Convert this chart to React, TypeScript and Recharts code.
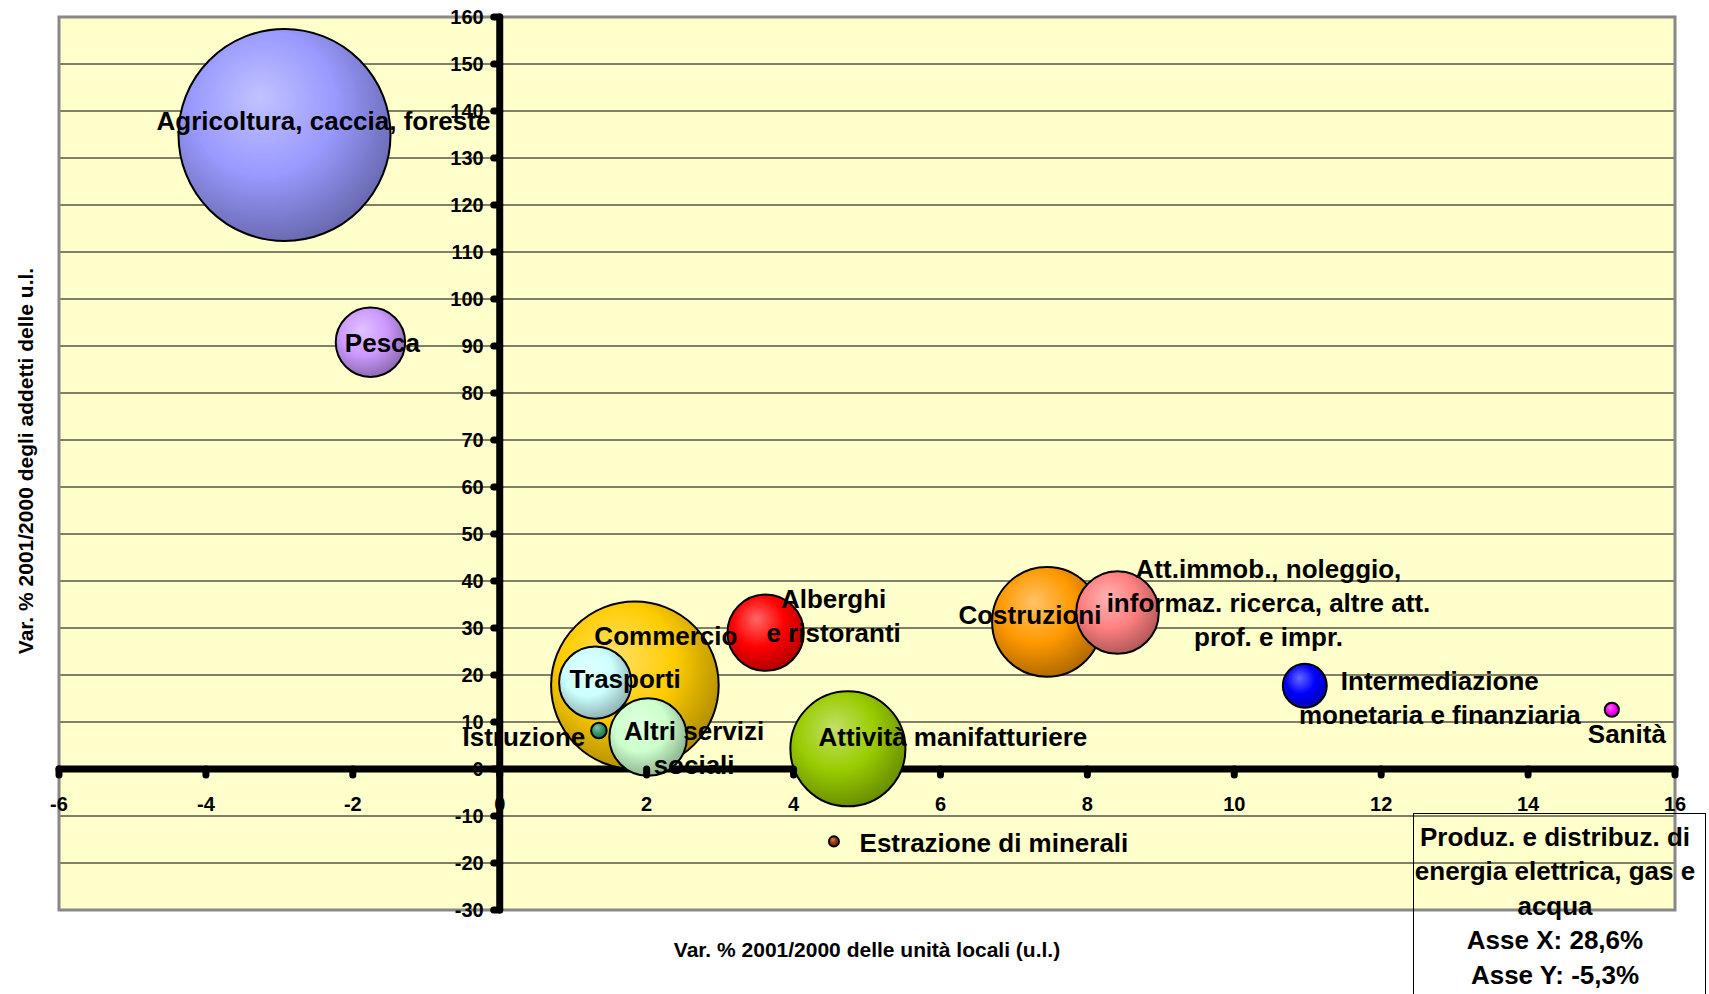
import React from "react";
import {
  ScatterChart,
  Scatter,
  XAxis,
  YAxis,
  ZAxis,
  CartesianGrid,
  ReferenceLine,
  ReferenceArea,
} from "recharts";

// settori di attività economica
const categories = [
  "Agricoltura, caccia, foreste",
  "Pesca",
  "Commercio",
  "Trasporti",
  "Istruzione",
  "Altri servizi sociali",
  "Alberghi e ristoranti",
  "Attività manifatturiere",
  "Estrazione di minerali",
  "Costruzioni",
  "Att.immob., noleggio, informaz. ricerca, altre att. prof. e impr.",
  "Intermediazione monetaria e finanziaria",
  "Sanità",
];
// Var. % 2001/2000 delle unità locali
const varUnitaLocali = [-2.93, -1.76, 1.84, 1.3, 1.35, 2.02, 3.62, 4.74, 4.55, 7.45, 8.41, 10.96, 15.14];
// Var. % 2001/2000 degli addetti delle u.l.
const varAddetti = [134.9, 90.8, 17.8, 18.4, 8.2, 6.8, 29.0, 4.3, -15.4, 31.3, 33.3, 17.7, 12.6];
// dimensione delle bolle
const bubbleSize = [112, 12, 70, 13, 0.6, 15, 14.5, 33, 0.25, 30, 17, 4.8, 0.5];

// settore fuori scala (riquadro in basso a destra)
const outsideLines = ["Produz. e distribuz. di", "energia elettrica, gas e", "acqua"];
const outsideX = 28.6;
const outsideY = -5.3;

const xTicks = [-6, -4, -2, 0, 2, 4, 6, 8, 10, 12, 14, 16];
const yTicks = [-30, -20, -10, 0, 10, 20, 30, 40, 50, 60, 70, 80, 90, 100, 110, 120, 130, 140, 150, 160];

const colors = [
  "#9999FF", "#CC99FF", "#FFCC00", "#CCFFFF", "#339966", "#CCFFCC", "#FF0000",
  "#99CC00", "#993300", "#FF9900", "#FF8080", "#0000FF", "#FF00FF",
];

const labelLines = [
  ["Agricoltura, caccia, foreste"],
  ["Pesca"],
  ["Commercio"],
  ["Trasporti"],
  ["Istruzione"],
  ["Altri servizi", "sociali"],
  ["Alberghi", "e ristoranti"],
  ["Attività manifatturiere"],
  ["Estrazione di minerali"],
  ["Costruzioni"],
  ["Att.immob., noleggio,", "informaz. ricerca, altre att.", "prof. e impr."],
  ["Intermediazione", "monetaria e finanziaria"],
  ["Sanità"],
];
// offset of label (first line centre) from bubble centre, px
const labelOffset = [
  [39, -14], [12, 0], [31, -50], [30, -4], [-75, 6], [46, -6], [68, -34],
  [105, -12], [160, 1], [-17, -7], [151, -44], [135, -5], [15, 24],
];

const data = categories.map((name, i) => ({
  name,
  x: varUnitaLocali[i],
  y: varAddetti[i],
  z: bubbleSize[i],
  idx: i,
}));

const W = 1709;
const H = 994;
// axes take 1px (YAxis width / XAxis height), plot box = 59..1675 x 17..910
const M = { top: 17, right: 34, bottom: 83, left: 58 };
const PL = 59;
const PW = 1675 - PL;
const PH = 910 - 17;
const X0 = PL + (6 / 22) * PW;
const Y0 = 17 + (160 / 190) * PH;
const FONT = '"Liberation Sans", Arial, sans-serif';

const mix = (hex: string, to: string, t: number) => {
  const a = parseInt(hex.slice(1), 16);
  const b = parseInt(to.slice(1), 16);
  const ch = (v: number, s: number) => (v >> s) & 255;
  const m = (s: number) => Math.round(ch(a, s) + (ch(b, s) - ch(a, s)) * t);
  return `rgb(${m(16)},${m(8)},${m(0)})`;
};

const Bubble = (props: any) => {
  const { cx, cy, size, width, payload } = props;
  const r = size != null ? Math.sqrt(Math.max(size, 0) / Math.PI) : (width || 0) / 2;
  const c = colors[payload.idx];
  const id = `bub-${payload.idx}`;
  return (
    <g>
      <defs>
        <radialGradient id={id} cx="42%" cy="38%" r="68%" fx="38%" fy="32%">
          <stop offset="0%" stopColor={mix(c, "#ffffff", 0.4)} />
          <stop offset="50%" stopColor={c} />
          <stop offset="100%" stopColor={mix(c, "#000000", 0.35)} />
        </radialGradient>
      </defs>
      <circle cx={cx} cy={cy} r={r} fill={`url(#${id})`} stroke="#000" strokeWidth={2} />
    </g>
  );
};

const BubbleLabel = (props: any) => {
  const { cx, cy, payload } = props;
  const [dx, dy] = labelOffset[payload.idx];
  return (
    <g>
      {labelLines[payload.idx].map((t, k) => (
        <text
          key={k}
          x={cx + dx}
          y={cy + dy + k * 34 + 9.3}
          textAnchor="middle"
          fontSize={26}
          fontWeight="bold"
          fontFamily={FONT}
          fill="#000"
        >
          {t}
        </text>
      ))}
    </g>
  );
};

const XTick = (props: any) => {
  const { x, payload } = props;
  return (
    <g>
      <line x1={x} x2={x} y1={Y0} y2={Y0 + 6} stroke="#000" strokeWidth={7} strokeLinecap="round" />
      <text x={x} y={810.5} textAnchor="middle" fontSize={20} fontWeight="bold" fontFamily={FONT} fill="#000">
        {payload.value}
      </text>
    </g>
  );
};

const YTick = (props: any) => {
  const { y, payload } = props;
  return (
    <g>
      <text x={X0 - 16} y={y + 7.2} textAnchor="end" fontSize={20} fontWeight="bold" fontFamily={FONT} fill="#000">
        {payload.value}
      </text>
      <line x1={X0 - 6} x2={X0} y1={y} y2={y} stroke="#000" strokeWidth={7} strokeLinecap="round" />
    </g>
  );
};

const XTitle = () => (
  <text x={PL + PW / 2} y={957} textAnchor="middle" fontSize={21} fontWeight="bold" fontFamily={FONT} fill="#000">
    Var. % 2001/2000 delle unità locali (u.l.)
  </text>
);

const YTitle = () => (
  <text
    x={33}
    y={461}
    transform="rotate(-90, 33, 461)"
    textAnchor="middle"
    fontSize={21}
    fontWeight="bold"
    fontFamily={FONT}
    fill="#000"
  >
    Var. % 2001/2000 degli addetti delle u.l.
  </text>
);

const pct = (v: number) => v.toFixed(1).replace(".", ",") + "%";

export default function App() {
  return (
    <div style={{ position: "absolute", left: 0, top: 0, width: W, height: H, fontFamily: FONT }}>
      <ScatterChart width={W} height={H} margin={M}>
        <CartesianGrid horizontal vertical={false} stroke="#000" strokeWidth={1} fill="#FFFFCC" fillOpacity={1} />
        <ReferenceArea x1={-6} x2={16} y1={-30} y2={160} fill="none" stroke="#888" strokeWidth={3} zIndex={-50} />
        <XAxis
          type="number"
          dataKey="x"
          domain={[-6, 16]}
          ticks={xTicks}
          interval={0}
          height={1}
          axisLine={false}
          tickLine={false}
          tick={(p: any) => <XTick {...p} />}
          label={<XTitle />}
        />
        <YAxis
          type="number"
          dataKey="y"
          domain={[-30, 160]}
          ticks={yTicks}
          interval={0}
          width={1}
          axisLine={false}
          tickLine={false}
          tick={(p: any) => <YTick {...p} />}
          label={<YTitle />}
        />
        <ZAxis type="number" dataKey="z" domain={[0, 112]} range={[0, 35300]} />
        <ReferenceLine
          segment={[{ x: -6, y: 0 }, { x: 16, y: 0 }]}
          stroke="#000"
          strokeWidth={7}
          strokeLinecap="round"
          zIndex={550}
        />
        <ReferenceLine
          segment={[{ x: 0, y: -30 }, { x: 0, y: 160 }]}
          stroke="#000"
          strokeWidth={7}
          strokeLinecap="round"
          zIndex={550}
        />
        <Scatter data={data} isAnimationActive={false} shape={(p: any) => <Bubble {...p} />} />
        <Scatter data={data} isAnimationActive={false} shape={(p: any) => <BubbleLabel {...p} />} zIndex={700} />
      </ScatterChart>
      <div
        style={{
          position: "absolute",
          left: 1413,
          top: 813,
          width: 293,
          height: H - 813,
          boxSizing: "border-box",
          border: "1px solid #000",
          borderBottom: "none",
          paddingTop: 5.5,
          paddingRight: 9,
          textAlign: "center",
          fontSize: 26,
          fontWeight: "bold",
          lineHeight: "34.5px",
          color: "#000",
          whiteSpace: "nowrap",
        }}
      >
        {outsideLines.map((t) => (
          <div key={t}>{t}</div>
        ))}
        <div>Asse X: {pct(outsideX)}</div>
        <div>Asse Y: {pct(outsideY)}</div>
      </div>
    </div>
  );
}
